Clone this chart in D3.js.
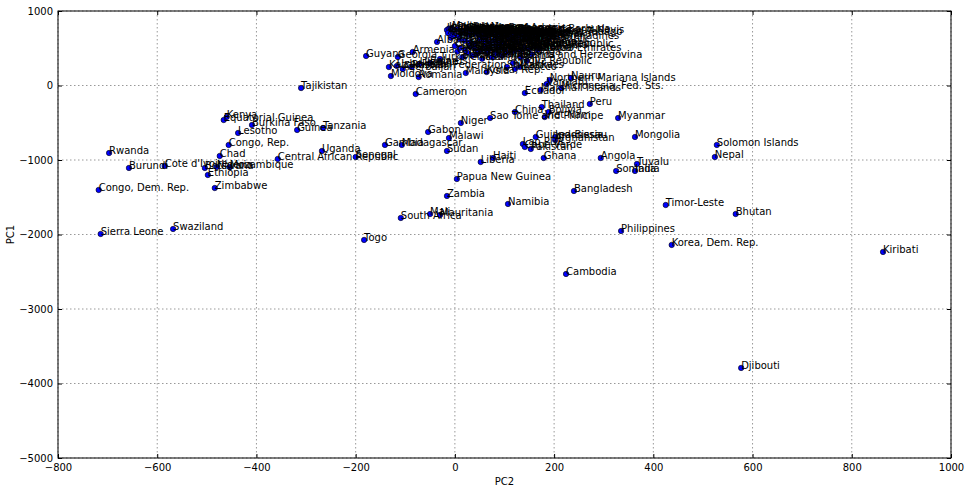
<!DOCTYPE html>
<html><head><meta charset="utf-8">
<script src="https://cdn.jsdelivr.net/npm/d3@7"></script>
<style>body{margin:0;background:#fff} text{font-family:"DejaVu Sans",sans-serif}</style>
</head><body><svg id="c" width="970" height="494"></svg>
<script>
const countries = [
"Guyana","Tajikistan","Moldova","Romania","Cameroon","Malaysia","Kiribati","Djibouti","Cambodia","Bhutan",
"Timor-Leste","Korea, Dem. Rep.","Philippines","Bangladesh","Namibia","Zambia","Papua New Guinea","Togo","South Africa","Mali",
"Mauritania","Sierra Leone","Swaziland","Zimbabwe","Congo, Dem. Rep.","Burundi","Rwanda","Cote d'Ivoire","Ethiopia","Botswana",
"Nigeria","Mozambique","Chad","Congo, Rep.","Lesotho","Kenya","Equatorial Guinea","Burkina Faso","Guinea","Tanzania",
"Central African Republic","Uganda","Senegal","Gambia","Madagascar","Gabon","Malawi","Sudan","Niger","Liberia",
"Haiti","Sao Tome and Principe","China","Thailand","Bolivia","Viet Nam","Peru","Myanmar","Ecuador","Indonesia",
"Afghanistan","Guinea-Bissau","Lao PDR","Cape Verde","Pakistan","Ghana","Angola","Mongolia","Solomon Islands","Nepal",
"Tuvalu","Somalia","India","Nauru","Northern Mariana Islands","Vanuatu","Micronesia, Fed. Sts.","Marshall Islands",
"United States of America","Iceland","Canada","Malta","Australia","Saint Vincent and the Grenadines","Norway","Netherlands","Sweden","Finland",
"Denmark","Switzerland","Luxembourg","Germany","Austria","France","Belgium","United Kingdom","Ireland","Italy",
"Spain","Portugal","Greece","Israel","Cyprus","Monaco","San Marino","Andorra","Liechtenstein","Japan",
"Singapore","Brunei Darussalam","Antigua and Barbuda","Bahamas","Barbados","Bermuda","Puerto Rico","Grenada","Saint Lucia","Dominica",
"Saint Kitts and Nevis","Trinidad and Tobago","Jamaica","Costa Rica","Cuba","Chile","Uruguay","Argentina","Mexico","Panama",
"Colombia","Venezuela","Belize","Guatemala","Honduras","El Salvador","Nicaragua","Paraguay","Suriname","Dominican Republic",
"Czech Republic","Poland","Slovakia","Hungary","Slovenia","Croatia","Serbia","Montenegro","Macedonia, FYR","Bulgaria",
"Estonia","Latvia","Lithuania","Turkey","Iran","Iraq","Syrian Arab Republic","Jordan","Lebanon","Saudi Arabia",
"Kuwait","Qatar","Bahrain","United Arab Emirates","Oman","Yemen","Egypt","Libya","Tunisia","Algeria",
"Morocco","Bosnia and Herzegovina","Kyrgyz Republic","Korea, Rep.","Sri Lanka","Maldives","Fiji","Samoa","Tonga","Palau",
"Cook Islands","Mauritius","Seychelles","Brazil","Armenia","Georgia","Kazakhstan","Uzbekistan","Azerbaijan","Russian Federation",
"Ukraine","Belarus","Turkmenistan","Albania"
];
const pc2 = [
-179,-310,-129,-73,-79,22,863,577,224,566,
425,437,335,240,107,-16,4,-183,-109,-50,
-30,-714,-568,-484,-718,-657,-697,-585,-498,-504,
-480,-454,-474,-456,-437,-460,-466,-409,-318,-266,
-357,-268,-200,-141,-107,-54,-12,-16,12,52,
77,71,121,175,189,181,272,329,141,202,
202,163,137,141,153,179,294,363,528,524,
367,325,363,234,191,185,214,173,
-16,-12,-10,-6,-14,-8,-4,0,4,8,
12,16,20,24,28,32,36,40,44,48,
52,56,60,64,68,72,76,80,84,88,
92,96,100,104,108,112,116,120,124,128,
132,136,140,144,148,152,156,160,10,20,
30,40,50,60,70,80,90,100,110,82,
120,130,140,150,160,0,10,20,30,40,
50,60,70,80,90,100,110,120,130,140,
150,160,170,120,5,25,45,65,85,105,
121,133,117,64,105,131,145,167,155,95,
75,55,35,15,-85,-115,-133,-117,-105,-87,
-71,-50,-30,-36
];
const pc1 = [
396,-34,127,114,-114,168,-2234,-3791,-2530,-1725,
-1604,-2140,-1953,-1416,-1590,-1483,-1255,-2073,-1778,-1725,
-1738,-1993,-1926,-1376,-1402,-1107,-906,-1080,-1201,-1107,
-1094,-1094,-946,-798,-637,-423,-463,-530,-597,-570,
-986,-879,-960,-798,-798,-624,-705,-879,-503,-1027,
-973,-436,-356,-289,-356,-423,-248,-436,-101,-691,
-731,-691,-785,-825,-852,-973,-973,-691,-798,-960,
-1053,-1147,-1147,101,74,20,-34,-60,
745,765,725,770,705,640,690,675,755,660,
735,715,700,745,680,725,760,705,690,740,
670,715,650,730,700,755,685,720,660,740,
705,675,725,690,750,710,680,735,700,665,
720,690,655,705,675,640,690,660,620,600,
580,560,625,600,575,610,585,560,620,545,
595,570,620,590,555,530,505,480,520,495,
470,515,490,465,510,485,525,500,475,515,
490,530,500,470,455,440,430,445,425,440,
221,380,300,181,248,250,330,480,420,400,
380,360,400,380,450,382,248,262,221,248,
289,302,356,585
];
const xTicks = [-800,-600,-400,-200,0,200,400,600,800,1000];
const yTicks = [1000,0,-1000,-2000,-3000,-4000,-5000];

const m = {l:58, r:951, t:11, b:458};
const svg = d3.select("#c");
const x = d3.scaleLinear().domain([-800,1000]).range([m.l, m.r]);
const y = d3.scaleLinear().domain([-5000,1000]).range([m.b, m.t]);

// grid
const g = svg.append("g");
g.selectAll(".gx").data(xTicks).join("line")
  .attr("x1", d=>x(d)).attr("x2", d=>x(d)).attr("y1", m.t).attr("y2", m.b)
  .attr("stroke","#999").attr("stroke-dasharray","1.5,2.5").attr("stroke-width",1);
g.selectAll(".gy").data(yTicks).join("line")
  .attr("y1", d=>y(d)).attr("y2", d=>y(d)).attr("x1", m.l).attr("x2", m.r)
  .attr("stroke","#999").attr("stroke-dasharray","1.5,2.5").attr("stroke-width",1);

// axes
const fmt = d3.format("d");
const ax = (gen) => gen.tickSizeOuter(0).tickSizeInner(-4);
svg.append("g").attr("transform",`translate(0,${m.b})`)
  .call(ax(d3.axisBottom(x).tickValues(xTicks).tickFormat(fmt).tickPadding(6)));
svg.append("g").attr("transform",`translate(0,${m.t})`)
  .call(ax(d3.axisTop(x).tickValues(xTicks).tickFormat("")));
svg.append("g").attr("transform",`translate(${m.l},0)`)
  .call(ax(d3.axisLeft(y).tickValues(yTicks).tickFormat(fmt).tickPadding(5)));
svg.append("g").attr("transform",`translate(${m.r},0)`)
  .call(ax(d3.axisRight(y).tickValues(yTicks).tickFormat("")));
svg.selectAll(".tick text").attr("font-size",10).attr("fill","#000").attr("font-family","DejaVu Sans");
svg.selectAll(".domain").remove();
svg.append("rect").attr("x",m.l).attr("y",m.t).attr("width",m.r-m.l).attr("height",m.b-m.t)
  .attr("fill","none").attr("stroke","#000").attr("stroke-width",1);

// points
const data = countries.map((c,i)=>({c, x:pc2[i], y:pc1[i]}));
svg.append("g").selectAll("circle").data(data).join("circle")
  .attr("cx", d=>x(d.x)).attr("cy", d=>y(d.y)).attr("r",2.7)
  .attr("fill","#0000ff").attr("stroke","#000").attr("stroke-width",0.6);
svg.append("g").selectAll("text").data(data).join("text")
  .attr("x", d=>x(d.x)).attr("y", d=>y(d.y)+1)
  .attr("font-size",10).attr("fill","#000").text(d=>d.c);

// axis labels
svg.append("text").attr("x",(m.l+m.r)/2).attr("y",485).attr("text-anchor","middle")
  .attr("font-size",10).text("PC2");
svg.append("text").attr("transform",`translate(14,${(m.t+m.b)/2}) rotate(-90)`)
  .attr("text-anchor","middle").attr("font-size",10).text("PC1");
</script></body></html>
